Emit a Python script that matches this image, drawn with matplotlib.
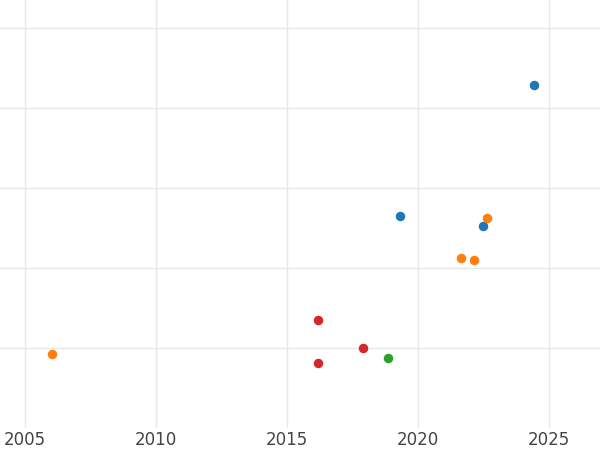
import matplotlib.pyplot as plt

blue_x = [2024.43, 2019.31, 2022.48]
blue_y = [4.29, 2.65, 2.53]
orange_x = [2022.63, 2021.64, 2022.14, 2006.03]
orange_y = [2.62, 2.12, 2.10, 0.92]
red_x = [2016.18, 2017.9, 2016.18]
red_y = [1.35, 1.0, 0.81]
green_x = [2018.85]
green_y = [0.87]
x_ticks = [2005, 2010, 2015, 2020, 2025]

fig = plt.figure(figsize=(6, 4.5), dpi=100)
ax = fig.add_axes([0, 0.049, 1, 0.951])
ax.scatter(blue_x, blue_y, color='#1f77b4', s=34, zorder=3)
ax.scatter(orange_x, orange_y, color='#ff7f0e', s=34, zorder=3)
ax.scatter(red_x, red_y, color='#d62728', s=34, zorder=3)
ax.scatter(green_x, green_y, color='#2ca02c', s=34, zorder=3)

ax.set_xlim(2004.05, 2026.95)
ax.set_ylim(0, 5.35)
ax.set_xticks(x_ticks)
ax.set_yticks([1, 2, 3, 4, 5])
ax.set_yticklabels([])
ax.grid(True, color='#e8e8e8', linewidth=1)
ax.tick_params(length=0, labelsize=12, labelcolor='#444444', pad=2)
for s in ax.spines.values():
    s.set_visible(False)

fig.savefig('out.png', dpi=100)
